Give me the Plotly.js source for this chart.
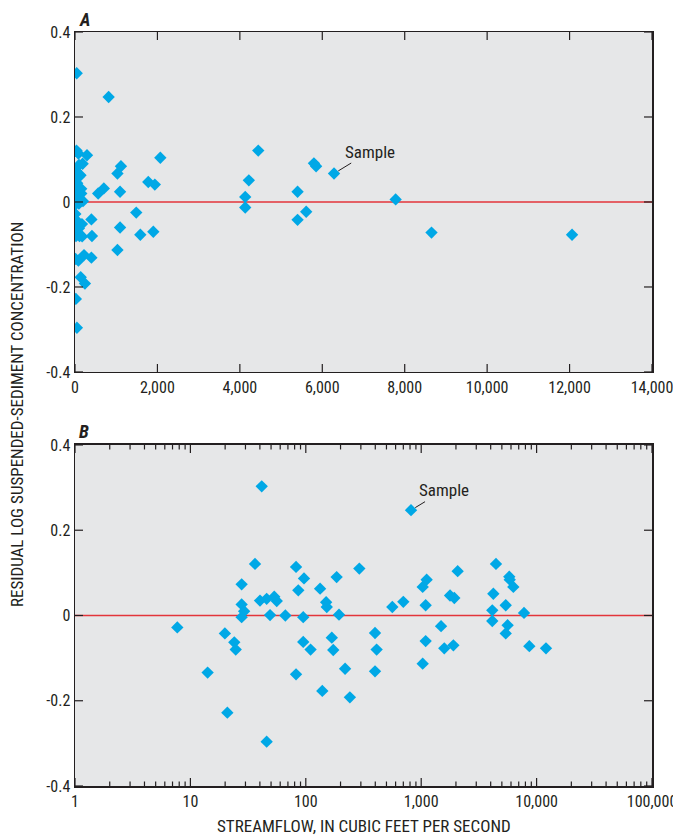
<!DOCTYPE html>
<html>
<head>
<meta charset="utf-8">
<script src="https://cdn.plot.ly/plotly-3.0.1.min.js"></script>
<style>html,body{margin:0;padding:0;background:#fff;}#chart{width:673px;height:837px;}</style>
</head>
<body>
<div id="chart"></div>
<script>
// Streamflow (cubic feet per second) for each sample
const streamflow = [41.5, 36.3, 27.8, 27.8, 29.2, 27.8, 40.1, 45.8, 53.3, 56, 49, 66.5,
  7.7, 19.9, 24, 24.7, 14.1, 20.9, 45.8,
  82.3, 96.5, 86.1, 95, 95, 110, 82.3, 133, 185, 150, 152, 194, 291,
  168, 173, 219, 139, 241, 398, 411, 398, 562, 700, 816,
  1115, 1030, 1093, 1486, 1093, 1585, 1900, 1030, 1778, 1937, 2070,
  4446, 4218, 4130, 4130, 5400, 5610, 5400, 5797, 5850, 6285, 7780, 8650, 12060];
// Residual log suspended-sediment concentration
const residual = [0.303, 0.121, 0.073, 0.026, 0.010, -0.004, 0.035, 0.039, 0.044, 0.034, 0.001, 0.000,
  -0.028, -0.042, -0.063, -0.080, -0.134, -0.228, -0.296,
  0.114, 0.087, 0.059, -0.004, -0.062, -0.080, -0.138, 0.063, 0.090, 0.031, 0.020, 0.002, 0.110,
  -0.052, -0.081, -0.125, -0.177, -0.192, -0.041, -0.080, -0.131, 0.020, 0.032, 0.247,
  0.084, 0.067, 0.024, -0.025, -0.060, -0.077, -0.070, -0.113, 0.047, 0.041, 0.104,
  0.121, 0.051, 0.012, -0.013, 0.024, -0.023, -0.042, 0.091, 0.084, 0.067, 0.006, -0.072, -0.077];
const linTickVals = [0, 2000, 4000, 6000, 8000, 10000, 12000, 14000];
const yTickVals = [-0.4, -0.2, 0, 0.2, 0.4];
const yTickText = ['-0.4', '-0.2', '0', '0.2', '0.4'];
const logTickVals = [1, 10, 100, 1000, 10000, 100000];
const logTickText = ['1', '10', '100', '1,000', '10,000', '100,000'];
const logMinorVals = [];
for (const decade of [1, 10, 100, 1000, 10000]) {
  for (const m of [2, 3, 4, 5, 6, 7, 8, 9]) logMinorVals.push(decade * m);
}
const referenceResidual = 0;
const sampleA = {x: 6285, y: 0.067};
const sampleB = {x: 816, y: 0.247};

const FONT = '"Liberation Sans Narrow", "Roboto Condensed", "Arial Narrow", "Liberation Sans", sans-serif';
const INK = '#231f20';
const BLUE = '#00a8e6';

const marker = {symbol: 'diamond', size: 9.5, color: BLUE, line: {width: 0}};
const traces = [
  {x: streamflow, y: residual, xaxis: 'x', yaxis: 'y', type: 'scatter', mode: 'markers', marker: marker, hoverinfo: 'x+y'},
  {x: streamflow, y: residual, xaxis: 'x2', yaxis: 'y2', type: 'scatter', mode: 'markers', marker: marker, hoverinfo: 'x+y'}
];

const axisCommon = {
  showline: true, linecolor: INK, linewidth: 1.5, mirror: true,
  ticks: '', showgrid: false, zeroline: false, ticklabeloverflow: 'allow',
  tickfont: {family: FONT, size: 16, color: INK}
};

// Inside tick marks, drawn through the axes' own scales
function xTicks(xref, yref, vals, len) {
  const out = [];
  for (const v of vals) {
    out.push({type: 'line', xref: xref, yref: yref + ' domain', ysizemode: 'pixel', yanchor: 0,
      x0: v, x1: v, y0: 0, y1: len, line: {color: INK, width: 1.2}, layer: 'above'});
    out.push({type: 'line', xref: xref, yref: yref + ' domain', ysizemode: 'pixel', yanchor: 1,
      x0: v, x1: v, y0: 0, y1: -len, line: {color: INK, width: 1.2}, layer: 'above'});
  }
  return out;
}
function yTicks(xref, yref, vals, len) {
  const out = [];
  for (const v of vals) {
    out.push({type: 'line', xref: xref + ' domain', yref: yref, xsizemode: 'pixel', xanchor: 0,
      x0: 0, x1: len, y0: v, y1: v, line: {color: INK, width: 1.2}, layer: 'above'});
    out.push({type: 'line', xref: xref + ' domain', yref: yref, xsizemode: 'pixel', xanchor: 1,
      x0: 0, x1: -len, y0: v, y1: v, line: {color: INK, width: 1.2}, layer: 'above'});
  }
  return out;
}

const tickShapes = [].concat(
  xTicks('x', 'y', linTickVals, 8),
  yTicks('x', 'y', yTickVals, 8),
  xTicks('x2', 'y2', logTickVals, 8),
  xTicks('x2', 'y2', logMinorVals, 4.5),
  yTicks('x2', 'y2', yTickVals, 8)
);

const layout = {
  width: 673, height: 837,
  margin: {l: 75, r: 21, t: 32, b: 51},
  paper_bgcolor: '#ffffff',
  plot_bgcolor: '#e6e7e8',
  showlegend: false,
  font: {family: FONT, color: INK},
  xaxis: Object.assign({}, axisCommon, {
    domain: [0, 1], anchor: 'y', range: [0, 14000],
    tickmode: 'array', tickvals: linTickVals, tickformat: ',d', separatethousands: true
  }),
  yaxis: Object.assign({}, axisCommon, {
    domain: [0.5491, 1], anchor: 'x', range: [-0.4, 0.4],
    tickmode: 'array', tickvals: yTickVals, ticktext: yTickText
  }),
  xaxis2: Object.assign({}, axisCommon, {
    domain: [0, 1], anchor: 'y2', type: 'log', range: [0, 5],
    tickmode: 'array', tickvals: logTickVals, ticktext: logTickText
  }),
  yaxis2: Object.assign({}, axisCommon, {
    domain: [0, 0.4523], anchor: 'x2', range: [-0.4, 0.4],
    tickmode: 'array', tickvals: yTickVals, ticktext: yTickText
  }),
  shapes: [
    {type: 'line', xref: 'x domain', yref: 'y', x0: 0, x1: 1, y0: referenceResidual, y1: referenceResidual,
     line: {color: '#e3353b', width: 1.5}, layer: 'below'},
    {type: 'line', xref: 'x2 domain', yref: 'y2', x0: 0, x1: 1, y0: referenceResidual, y1: referenceResidual,
     line: {color: '#e3353b', width: 1.5}, layer: 'below'}
  ].concat(tickShapes),
  annotations: [
    {text: '<b><i>A</i></b>', xref: 'paper', yref: 'paper', x: 0.004, y: 1.017, xanchor: 'left', yanchor: 'middle',
     showarrow: false, font: {family: FONT, size: 18, color: INK}},
    {text: '<b><i>B</i></b>', xref: 'paper', yref: 'paper', x: 0.004, y: 0.4705, xanchor: 'left', yanchor: 'middle',
     showarrow: false, font: {family: FONT, size: 18, color: INK}},
    {text: 'Sample', xref: 'x', yref: 'y', x: sampleA.x, y: sampleA.y, ax: 36, ay: -22,
     showarrow: true, arrowhead: 0, arrowwidth: 1, arrowcolor: INK, standoff: 5,
     font: {family: FONT, size: 17, color: INK}},
    {text: 'Sample', xref: 'x2', yref: 'y2', x: Math.log10(sampleB.x), y: sampleB.y, ax: 33, ay: -20,
     showarrow: true, arrowhead: 0, arrowwidth: 1, arrowcolor: INK, standoff: 5,
     font: {family: FONT, size: 17, color: INK}},
    {text: 'RESIDUAL LOG SUSPENDED-SEDIMENT CONCENTRATION', xref: 'paper', yref: 'paper',
     x: -0.1005, y: 0.492, textangle: -90, xanchor: 'center', yanchor: 'middle', showarrow: false,
     font: {family: FONT, size: 17, color: INK}},
    {text: 'STREAMFLOW, IN CUBIC FEET PER SECOND', xref: 'paper', yref: 'paper',
     x: 0.5, y: -0.053, xanchor: 'center', yanchor: 'middle', showarrow: false,
     font: {family: FONT, size: 17, color: INK}}
  ]
};

Plotly.newPlot('chart', traces, layout, {displayModeBar: false, staticPlot: true});
</script>
</body>
</html>
